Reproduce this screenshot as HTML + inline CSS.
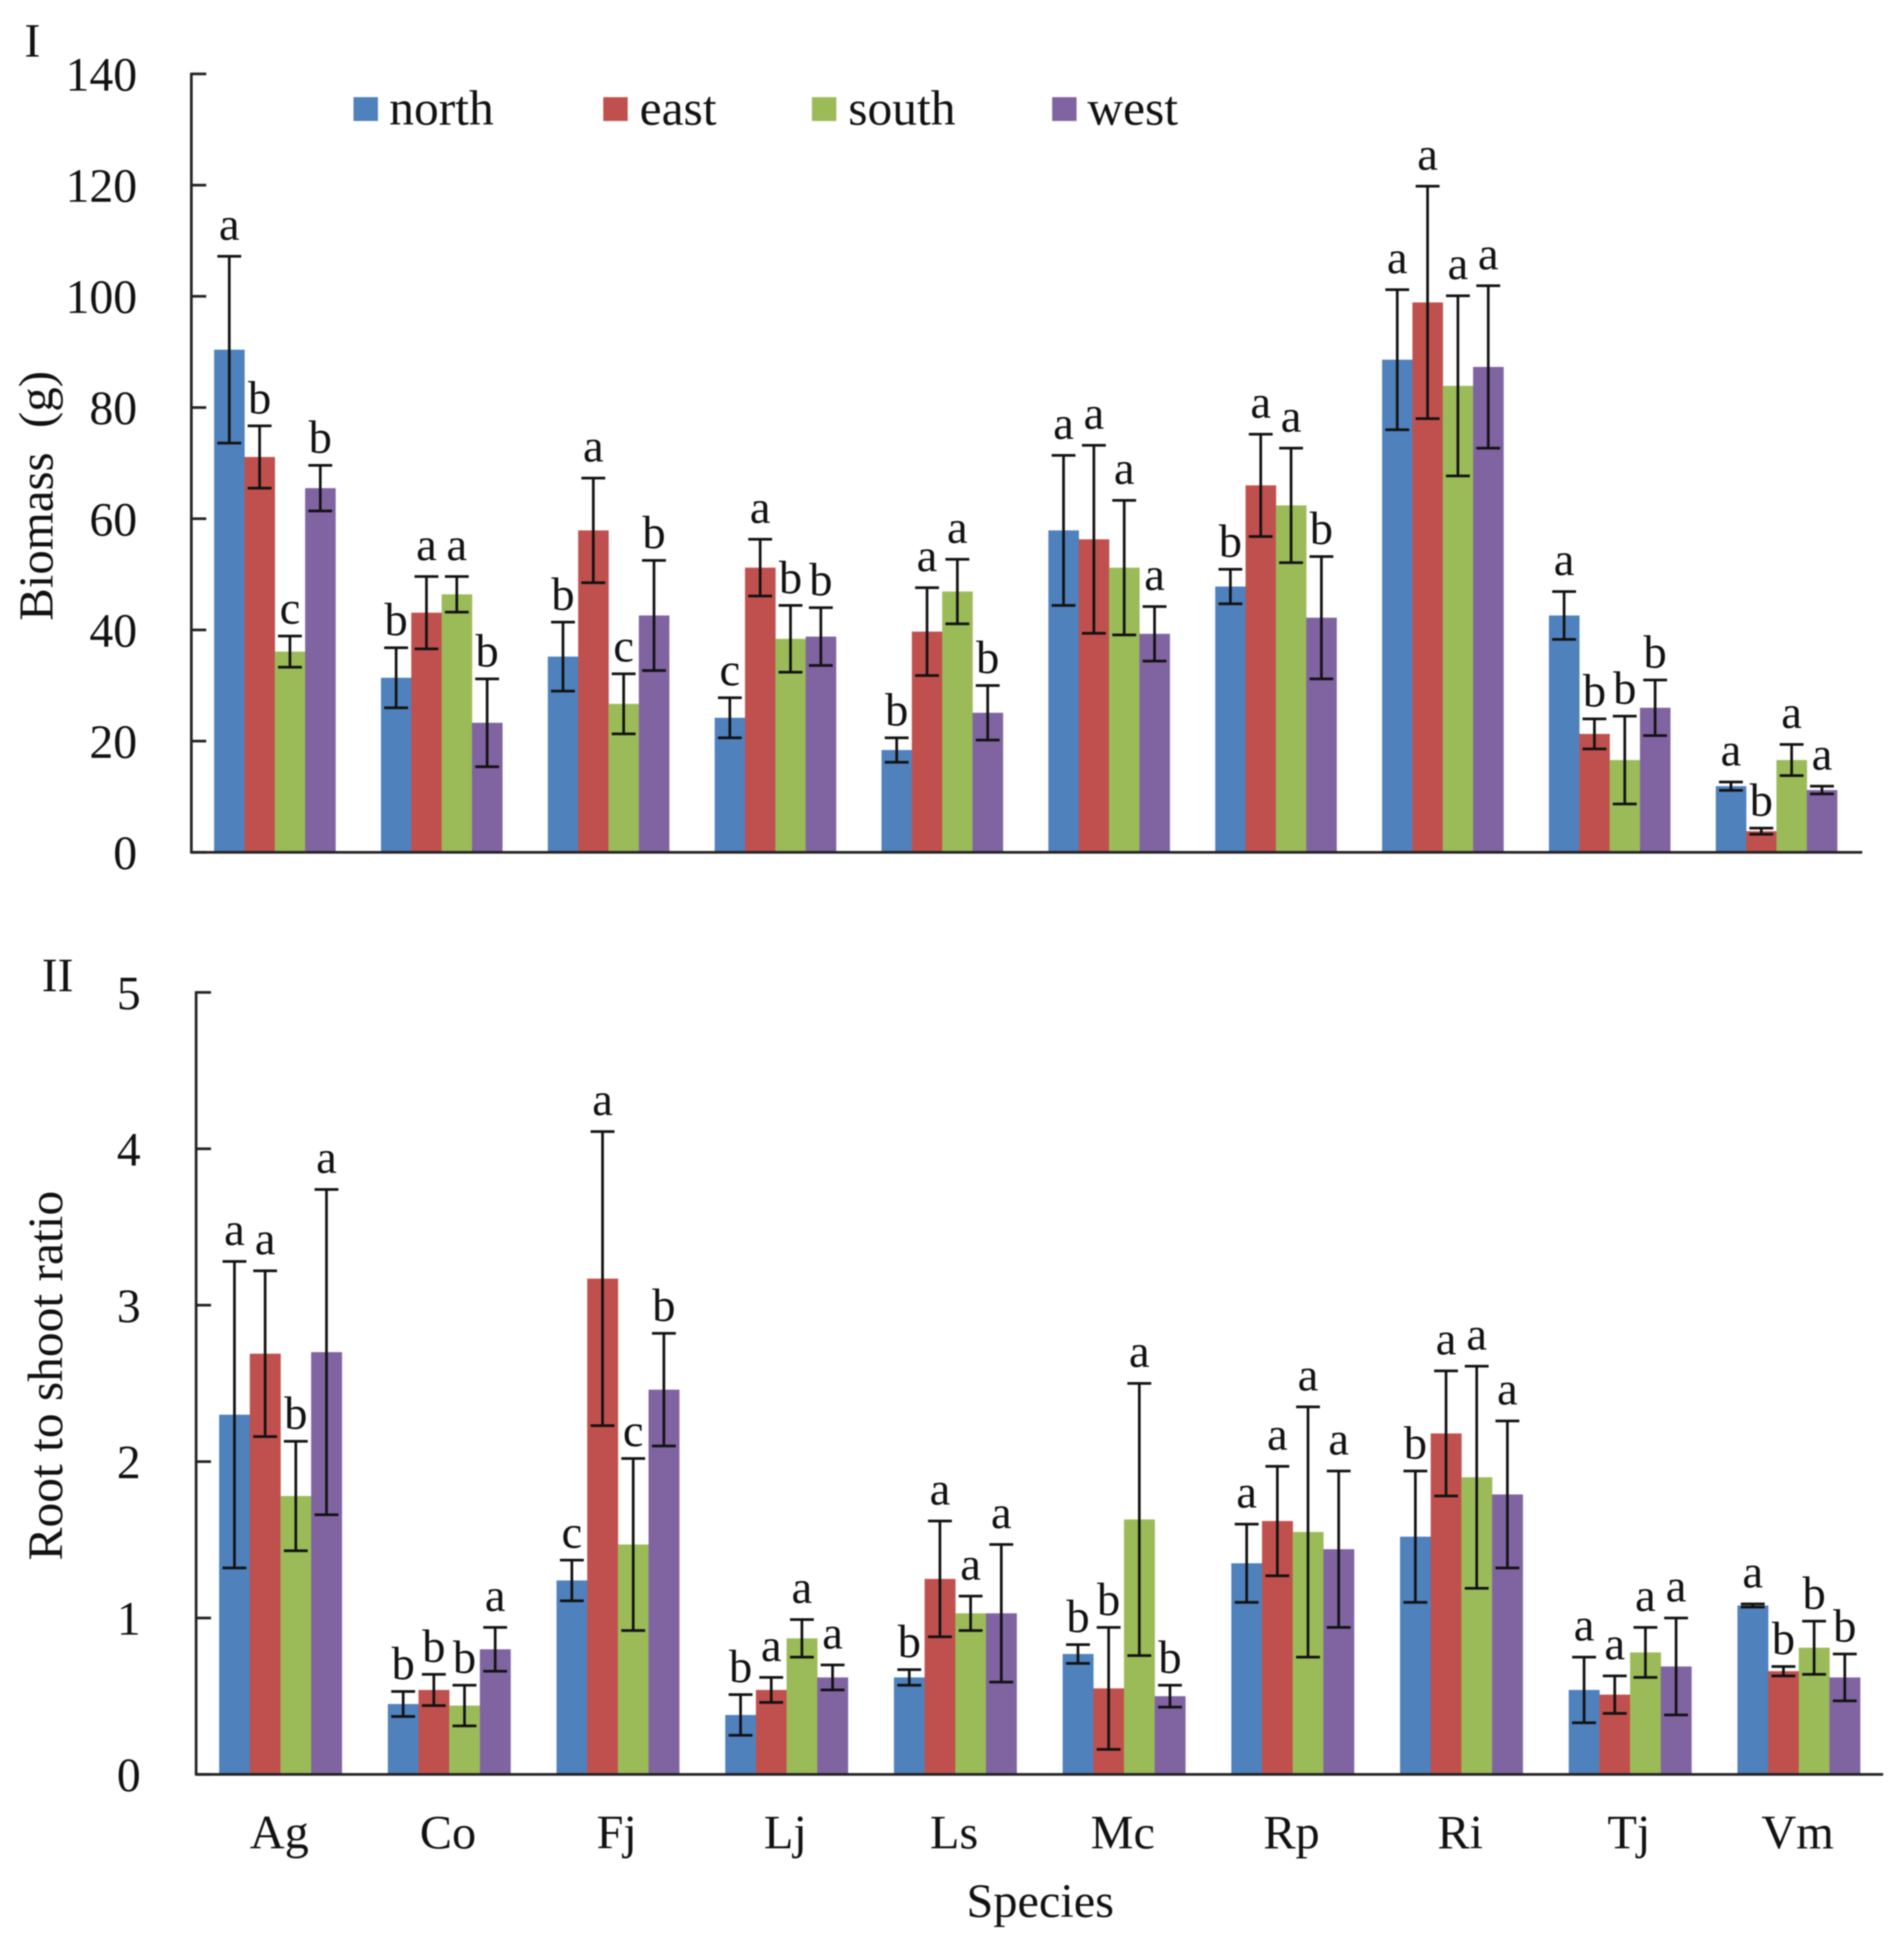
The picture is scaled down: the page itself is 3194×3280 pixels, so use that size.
<!DOCTYPE html>
<html lang="en">
<head>
<meta charset="utf-8">
<title>Biomass and root to shoot ratio by species</title>
<style>
html,body{margin:0;padding:0;background:#fff;width:3194px;height:3280px;overflow:hidden}
svg{display:block;filter:blur(1.1px)}
text{font-family:"Liberation Serif",serif;fill:#111;white-space:pre}
</style>
</head>
<body>
<svg id="chart" xmlns="http://www.w3.org/2000/svg" width="3194" height="3280" viewBox="0 0 3194 3280">
  <rect x="0" y="0" width="3194" height="3280" fill="#fff"/>
  <g id="panel1"></g>
  <g id="panel2"></g>
  <text x="41" y="95" font-size="80">I</text>
  <text x="70" y="1663" font-size="80">II</text>
  <text transform="translate(88,832) rotate(-90)" text-anchor="middle" font-size="82">Biomass  (g)</text>
  <text transform="translate(104,2308) rotate(-90)" text-anchor="middle" font-size="83">Root to shoot ratio</text>
  <text x="1745" y="3216" text-anchor="middle" font-size="81">Species</text>
  <g>
    <rect x="593" y="163" width="41" height="40" fill="#4F81BD"/>
    <text x="653" y="209" font-size="83">north</text>
    <rect x="1012" y="163" width="41" height="40" fill="#C0504D"/>
    <text x="1073" y="209" font-size="83">east</text>
    <rect x="1362" y="163" width="41" height="40" fill="#9BBB59"/>
    <text x="1423" y="209" font-size="83">south</text>
    <rect x="1765" y="163" width="41" height="40" fill="#8064A2"/>
    <text x="1824" y="209" font-size="83">west</text>
  </g>
</svg>
<script>
const species = ['Ag','Co','Fj','Lj','Ls','Mc','Rp','Ri','Tj','Vm'];
const seriesNames = ['north','east','south','west'];
const seriesColors = ['#4F81BD','#C0504D','#9BBB59','#8064A2'];

const biomassTicks = [0,20,40,60,80,100,120,140];
const biomassNorth = [90.4,31.4,35.2,24.2,18.4,57.9,47.8,88.6,42.6,11.9];
const biomassEast  = [71.1,43.1,57.9,51.2,39.7,56.3,66.0,98.9,21.3,3.8];
const biomassSouth = [36.1,46.4,26.7,38.4,46.9,51.2,62.4,83.9,16.6,16.6];
const biomassWest  = [65.5,23.3,42.6,38.8,25.1,39.3,42.2,87.3,26.0,11.2];
const biomassNorthErr = [16.8,5.4,6.2,3.6,2.2,13.5,3.1,12.6,4.3,0.75];
const biomassEastErr  = [5.6,6.5,9.4,5.1,7.9,16.9,9.2,20.9,2.7,0.55];
const biomassSouthErr = [2.8,3.2,5.4,6.0,5.8,12.1,10.3,16.2,7.9,2.8];
const biomassWestErr  = [4.1,7.9,9.9,5.2,4.9,4.9,11.0,14.6,5.0,0.7];
const biomassLetters = ['abcb','baab','bacb','cabb','baab','aaaa','baab','aaaa','abbb','abaa'];

const ratioTicks = [0,1,2,3,4,5];
const ratioNorth = [2.30,0.45,1.24,0.38,0.62,0.77,1.35,1.52,0.54,1.08];
const ratioEast  = [2.69,0.54,3.17,0.54,1.25,0.55,1.62,2.18,0.51,0.66];
const ratioSouth = [1.78,0.44,1.47,0.87,1.03,1.63,1.55,1.90,0.78,0.81];
const ratioWest  = [2.70,0.80,2.46,0.62,1.03,0.50,1.44,1.79,0.69,0.62];
const ratioNorthErr = [0.98,0.08,0.13,0.13,0.05,0.06,0.25,0.42,0.21,0.01];
const ratioEastErr  = [0.53,0.10,0.94,0.08,0.37,0.39,0.35,0.40,0.12,0.03];
const ratioSouthErr = [0.35,0.13,0.55,0.12,0.11,0.87,0.80,0.71,0.16,0.17];
const ratioWestErr  = [1.04,0.14,0.36,0.08,0.44,0.07,0.50,0.47,0.31,0.15];
const ratioLetters = ['aaba','bbba','cacb','baaa','baaa','bbab','aaaa','baaa','aaaa','abbb'];

const NS = 'http://www.w3.org/2000/svg';
function make(parent, tag, props, txt) {
  const el = document.createElementNS(NS, tag);
  for (const k in props) el.setAttribute(k, props[k]);
  if (txt !== undefined) el.textContent = txt;
  parent.appendChild(el);
  return el;
}

function drawPanel(root, opt) {
  const yScale = v => opt.y0 - (v / opt.max) * (opt.y0 - opt.yTop);
  const groupW = (opt.plotEnd - opt.x0) / species.length;
  const barW = groupW / 5.5;
  const barX = (g, s) => opt.x0 + g * groupW + barW * 0.75 + s * barW;

  opt.values.forEach((vals, s) => {
    vals.forEach((v, g) => {
      const bar = make(root, 'rect', {x: barX(g, s), y: yScale(v), width: barW + 0.4, height: opt.y0 - yScale(v), fill: seriesColors[s]});
      
      
    });
  });

  opt.values.forEach((vals, s) => {
    vals.forEach((v, g) => {
      const cx = barX(g, s) + barW / 2;
      const e = opt.errors[s][g];
      const yHi = yScale(v + e), yLo = yScale(v - e);
      const eb = make(root, 'path', {d: 'M' + (cx - 20) + ' ' + yHi + 'H' + (cx + 20) + 'M' + cx + ' ' + yHi + 'V' + yLo + 'M' + (cx - 20) + ' ' + yLo + 'H' + (cx + 20), stroke: '#111', 'stroke-width': 4.5, fill: 'none'});
      
      
      const ch = opt.letters[g][s];
      const gap = ch === 'a' ? 28 : 21;
      const letter = make(root, 'text', {x: cx, y: yHi - gap, 'text-anchor': 'middle', 'font-size': 78}, ch);
      
      
    });
  });

  const yAxis = make(root, 'line', {x1: opt.x0, x2: opt.x0, y1: opt.yTop - 2, y2: opt.y0 + 2, stroke: '#222', 'stroke-width': 4.5});
  
  
  const xAxis = make(root, 'line', {x1: opt.x0, x2: opt.axisEnd, y1: opt.y0, y2: opt.y0, stroke: '#222', 'stroke-width': 4.5});
  
  

  opt.ticks.forEach(t => {
    const y = yScale(t);
    const tick = make(root, 'line', {x1: opt.x0, x2: opt.x0 + 25, y1: y, y2: y, stroke: '#222', 'stroke-width': 4.5});
    
    
    const lab = make(root, 'text', {x: opt.labelX, y: y + 28, 'text-anchor': 'end', 'font-size': 80}, String(t));
    
    
  });

  if (opt.showCategories) {
    species.forEach((name, g) => {
      const lab = make(root, 'text', {x: opt.x0 + (g + 0.5) * groupW - 2, y: 3101, 'text-anchor': 'middle', 'font-size': 81}, name);
      
      
    });
  }
}

drawPanel(document.getElementById('panel1'), {
  key: 'biomass', x0: 321, plotEnd: 3120, axisEnd: 3124, y0: 1430, yTop: 124, max: 140, labelX: 230,
  ticks: biomassTicks,
  values: [biomassNorth, biomassEast, biomassSouth, biomassWest],
  errors: [biomassNorthErr, biomassEastErr, biomassSouthErr, biomassWestErr],
  letters: biomassLetters, showCategories: false
});
drawPanel(document.getElementById('panel2'), {
  key: 'ratio', x0: 329, plotEnd: 3159, axisEnd: 3159, y0: 2977, yTop: 1665, max: 5, labelX: 236,
  ticks: ratioTicks,
  values: [ratioNorth, ratioEast, ratioSouth, ratioWest],
  errors: [ratioNorthErr, ratioEastErr, ratioSouthErr, ratioWestErr],
  letters: ratioLetters, showCategories: true
});
</script>
</body>
</html>
